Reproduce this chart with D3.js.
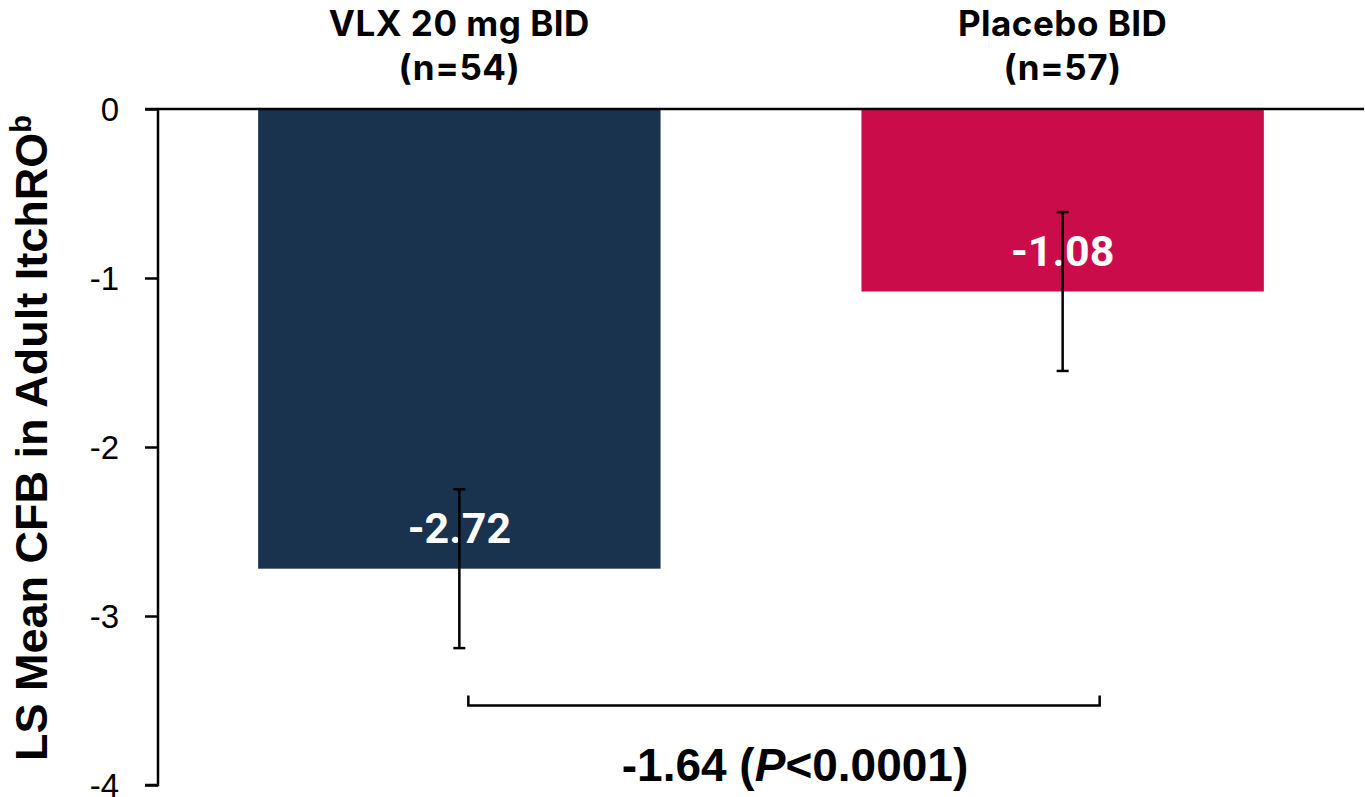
<!doctype html>
<meta charset="utf-8">
<title>LS Mean CFB</title>
<script src="https://cdn.jsdelivr.net/npm/d3@7"></script>
<style>
  body { margin: 0; background: #fff; }
</style>
<body>
<div id="chart"></div>
<script>

var groups = ['VLX 20 mg BID', 'Placebo BID']
  , groupN = ['(n=54)', '(n=57)']
  , means = [-2.72, -1.08]
  , errLow = [-3.19, -1.55]
  , errHigh = [-2.25, -0.61]
  , colors = ['#19324d', '#ca0c4a']
  , yTicks = [0, -1, -2, -3, -4]
  , diffLabel = '-1.64'
  , pLabel = '<0.0001';

var width = 1365
  , height = 797
  , axisX = 158
  , rightX = 1364
  , zeroY = 109
  , bottomY = 785;

var svg = d3.select('#chart').append('svg')
  .attr('width', width)
  .attr('height', height);

var x = d3.scaleBand()
  .domain(groups)
  .range([axisX, rightX])
  .paddingInner(0.333)
  .paddingOuter(0.166);

var y = d3.scaleLinear()
  .domain([0, -4])
  .range([zeroY, bottomY]);

// bars
svg.selectAll('rect.bar')
  .data(groups)
  .enter().append('rect')
  .attr('class', 'bar')
  .attr('x', function(d) { return x(d) })
  .attr('y', y(0))
  .attr('width', x.bandwidth())
  .attr('height', function(d, i) { return y(means[i]) - y(0) })
  .style('fill', function(d, i) { return colors[i] });

// value labels
svg.selectAll('text.val')
  .data(groups)
  .enter().append('text')
  .attr('class', 'val')
  .attr('x', function(d) { return x(d) + x.bandwidth() / 2 })
  .attr('y', function(d, i) { return y(means[i]) - 26 })
  .attr('text-anchor', 'middle')
  .style('font-family', 'Roboto, sans-serif')
  .style('font-weight', 'bold')
  .style('font-size', '43px')
  .style('fill', '#fff')
  .text(function(d, i) { return means[i].toFixed(2) });

// error bars
var eb = svg.selectAll('g.err')
  .data(groups)
  .enter().append('g')
  .attr('class', 'err')
  .attr('transform', function(d) { return 'translate(' + (x(d) + x.bandwidth() / 2) + ',0)' })
  .style('stroke', '#000')
  .style('stroke-width', 2.5);

eb.append('line')
  .attr('y1', function(d, i) { return y(errHigh[i]) })
  .attr('y2', function(d, i) { return y(errLow[i]) });
eb.append('line')
  .attr('x1', -6).attr('x2', 6)
  .attr('y1', function(d, i) { return y(errHigh[i]) })
  .attr('y2', function(d, i) { return y(errHigh[i]) });
eb.append('line')
  .attr('x1', -6).attr('x2', 6)
  .attr('y1', function(d, i) { return y(errLow[i]) })
  .attr('y2', function(d, i) { return y(errLow[i]) });

// y axis
var yAxis = d3.axisLeft(y)
  .tickValues(yTicks)
  .tickFormat(function(d) { return String(d) })
  .tickSize(13)
  .tickPadding(26);

var ga = svg.append('g')
  .attr('transform', 'translate(' + axisX + ',0)')
  .call(yAxis);
ga.select('.domain').attr('d', 'M0,' + y(0) + 'V' + y(-4) + 'H-13')
  .style('stroke-width', 2.5);
ga.selectAll('.tick line').style('stroke-width', 2.5);
ga.selectAll('.tick text')
  .style('font-family', 'Arial, "Liberation Sans", sans-serif')
  .style('font-size', '33px')
  .style('fill', '#000')
  .attr('dy', '0.34em');

// zero line
svg.append('line')
  .attr('x1', axisX - 13).attr('x2', rightX)
  .attr('y1', y(0)).attr('y2', y(0))
  .style('stroke', '#000')
  .style('stroke-width', 2.5);

// y title
svg.append('text')
  .attr('transform', 'translate(47,' + 438 + ') rotate(-90)')
  .attr('text-anchor', 'middle')
  .style('font-family', 'Arial, "Liberation Sans", sans-serif')
  .style('font-weight', 'bold')
  .style('font-size', '45px')
  .style('fill', '#000')
  .text('LS Mean CFB in Adult ItchRO')
  .append('tspan')
  .attr('baseline-shift', 'super')
  .style('font-size', '29px')
  .text('b');

// category labels
var cl = svg.selectAll('text.cat')
  .data(groups)
  .enter().append('text')
  .attr('class', 'cat')
  .attr('text-anchor', 'middle')
  .style('font-family', 'Inter, "Open Sans", sans-serif')
  .style('font-weight', 'bold')
  .style('font-size', '35px')
  .style('letter-spacing', '0.5px')
  .style('fill', '#000');
cl.append('tspan')
  .attr('x', function(d) { return x(d) + x.bandwidth() / 2 })
  .attr('y', 36)
  .text(function(d) { return d });
cl.append('tspan')
  .attr('x', function(d) { return x(d) + x.bandwidth() / 2 })
  .attr('y', 80)
  .text(function(d, i) { return groupN[i] });

// comparison bracket
var bx1 = x(groups[0]) + x.bandwidth() / 2 + 9
  , bx2 = x(groups[1]) + x.bandwidth() / 2 + 37
  , by = y(-3.53)
  , bt = y(-3.47);
svg.append('path')
  .attr('d', 'M' + bx1 + ',' + bt + 'V' + by + 'H' + bx2 + 'V' + bt)
  .style('fill', 'none')
  .style('stroke', '#000')
  .style('stroke-width', 2.5);

var dt = svg.append('text')
  .attr('x', (bx1 + bx2) / 2 + 11)
  .attr('y', 781)
  .attr('text-anchor', 'middle')
  .style('font-family', 'Arial, "Liberation Sans", sans-serif')
  .style('font-weight', 'bold')
  .style('font-size', '46px')
  .style('fill', '#000');
dt.append('tspan').text(diffLabel + ' (');
dt.append('tspan').style('font-style', 'italic').text('P');
dt.append('tspan').text(pLabel + ')');

</script>
</body>
